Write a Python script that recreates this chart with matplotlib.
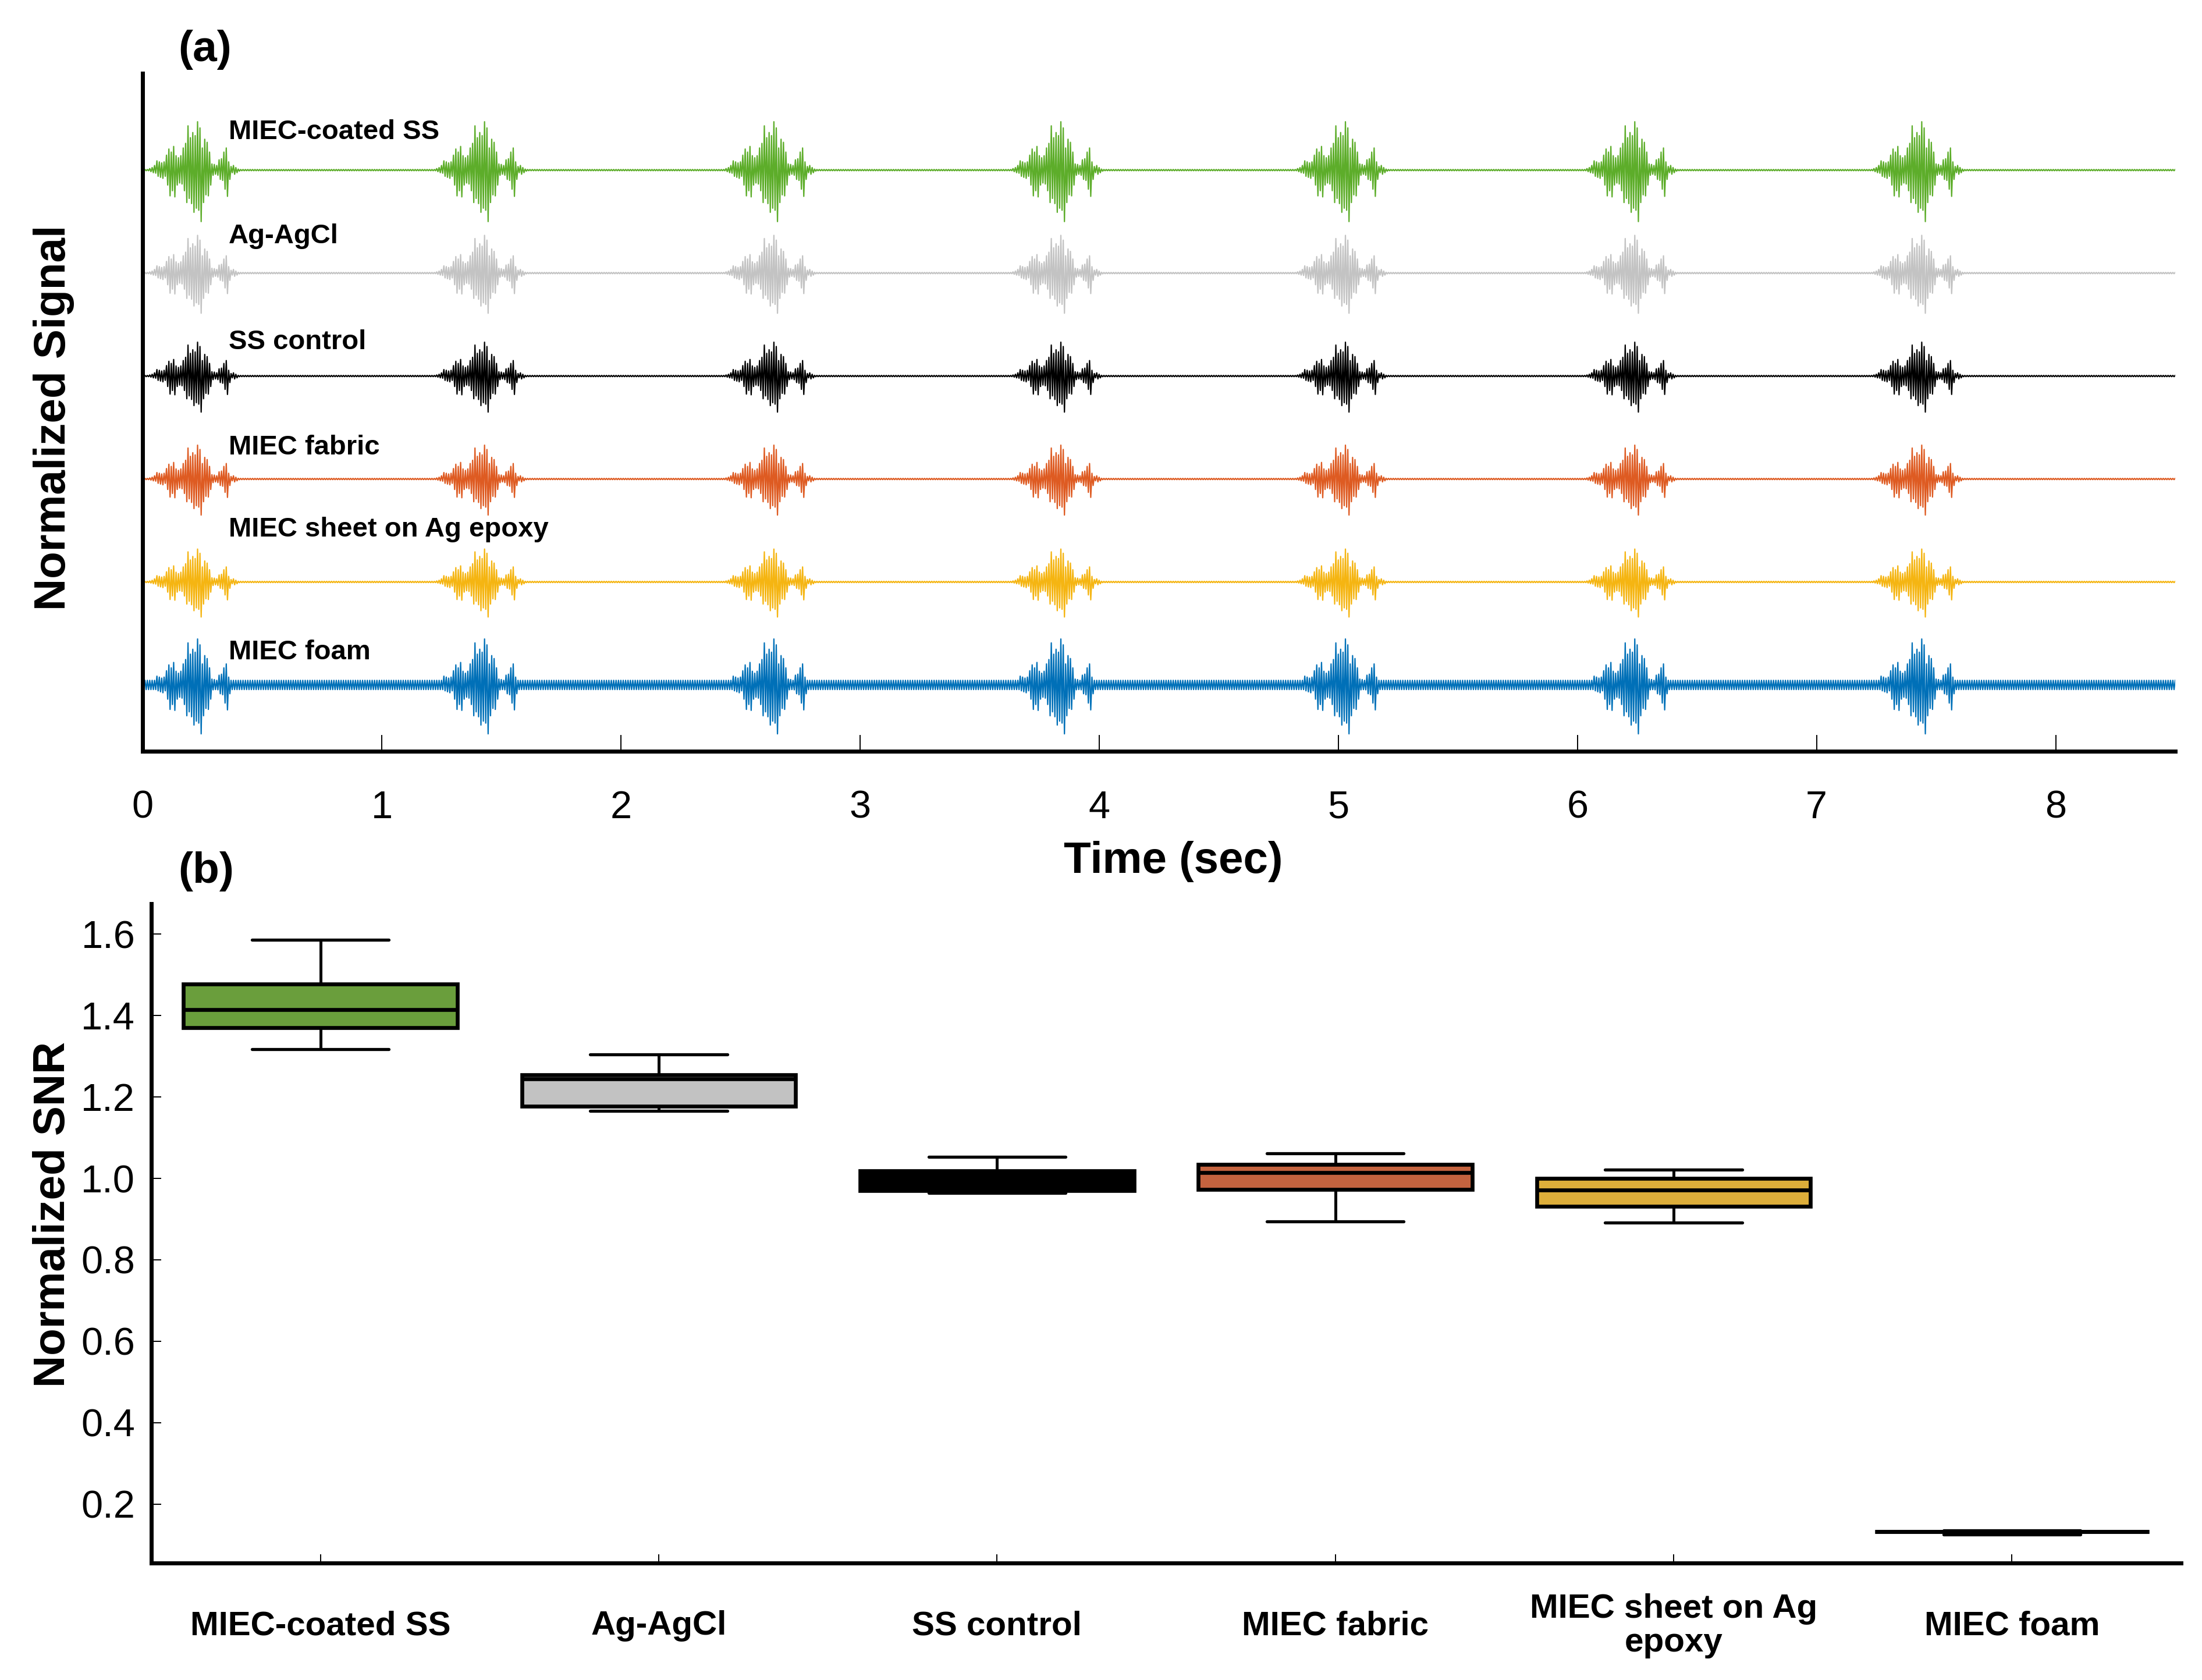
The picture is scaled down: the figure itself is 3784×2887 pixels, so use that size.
import matplotlib
matplotlib.use("Agg")
import matplotlib.pyplot as plt
import numpy as np

plt.rcParams['font.family'] = ['Liberation Sans', 'DejaVu Sans']

W, H = 3784, 2887
DPI = 200

# ---- (a) raw signal traces ----
trace_names = ['MIEC-coated SS', 'Ag-AgCl', 'SS control', 'MIEC fabric',
               'MIEC sheet on Ag epoxy', 'MIEC foam']
trace_colors = ['#5DAD2A', '#C3C3C3', '#000000', '#DE5B22', '#F5B512', '#0070B8']
trace_gain = [1.0, 0.78, 0.70, 0.70, 0.68, 0.95]      # burst size vs top trace
trace_floor = [0.006, 0.006, 0.006, 0.006, 0.006, 0.045]  # baseline noise band
label_lift = [0.30, 0.29, 0.26, 0.24, 0.44, 0.25]     # label baseline above trace
burst_peaks = [0.236, 1.431, 2.64, 3.84, 5.03, 6.24, 7.44]  # sec

# burst envelope read every 10 ms around the main peak (index 20 = peak),
# fraction of the largest excursion
burst_up = [0.03, 0.05, 0.09, 0.18, 0.16, 0.14, 0.16, 0.29, 0.41, 0.35,
            0.46, 0.28, 0.24, 0.28, 0.43, 0.52, 0.86, 0.63, 0.73, 0.67,
            0.94, 0.82, 0.43, 0.60, 0.54, 0.35, 0.12, 0.11, 0.09, 0.20,
            0.22, 0.35, 0.43, 0.16, 0.07, 0.09, 0.05, 0.02, 0.01]
burst_down = [0.03, 0.05, 0.06, 0.12, 0.14, 0.16, 0.12, 0.29, 0.50, 0.40,
              0.52, 0.29, 0.25, 0.27, 0.40, 0.63, 0.55, 0.65, 0.82, 0.74,
              0.78, 1.00, 0.63, 0.48, 0.50, 0.29, 0.10, 0.08, 0.10, 0.18,
              0.20, 0.37, 0.51, 0.18, 0.05, 0.08, 0.05, 0.02, 0.01]
burst_step = 0.01
t_end = 8.5

# ---- (b) SNR box plot ----
snr_labels = ['MIEC-coated SS', 'Ag-AgCl', 'SS control', 'MIEC fabric',
              'MIEC sheet on Ag\nepoxy', 'MIEC foam']
snr_whislo = [1.318, 1.166, 0.965, 0.894, 0.891, 0.125]
snr_q1 = [1.370, 1.178, 0.970, 0.973, 0.932, 0.1315]
snr_med = [1.415, 1.245, 0.990, 1.015, 0.971, 0.132]
snr_q3 = [1.477, 1.254, 1.018, 1.034, 1.000, 0.1325]
snr_whishi = [1.587, 1.305, 1.053, 1.062, 1.022, 0.135]
box_colors = ['#6A9E3C', '#C2C2C2', '#000000', '#C4633F', '#DDAE3A', '#000000']


def build_trace(gain, floor):
    dt = burst_step / 2
    n = int(round(t_end / dt)) + 1
    x = np.arange(n) * dt
    up = np.full(n, floor)
    dn = np.full(n, floor)
    for p in burst_peaks:
        for i in range(len(burst_up)):
            k = int(round((p + (i - 20) * burst_step) / dt))
            k -= k % 2
            if k < 0 or k + 1 >= n:
                continue
            up[k:k + 2] = max(floor, 0.5 * gain * burst_up[i])
            dn[k:k + 2] = max(floor, 0.5 * gain * burst_down[i])
    y = np.where(np.arange(n) % 2 == 0, up, -dn)
    return x, y


fig = plt.figure(figsize=(W / DPI, H / DPI), dpi=DPI)

# top panel
ax1 = fig.add_axes([245 / W, 1 - 1291 / H, (3738 - 245) / W, (1291 - 126) / H])
n_tr = len(trace_names)
for j in range(n_tr):
    off = n_tr - 1 - j
    x, y = build_trace(trace_gain[j], trace_floor[j])
    ax1.plot(x, y + off, color=trace_colors[j], lw=0.8)
    ax1.text(0.36, off + label_lift[j], trace_names[j], fontsize=17,
             fontweight='bold', ha='left', va='baseline')
ax1.set_xlim(0, t_end)
ax1.set_ylim(-0.644, 5.94)
ax1.set_yticks([])
ax1.set_xticks(range(9))
for s in ['top', 'right']:
    ax1.spines[s].set_visible(False)
for s in ['left', 'bottom']:
    ax1.spines[s].set_linewidth(2.5)
ax1.tick_params(axis='x', direction='in', length=10, width=0.7,
                labelsize=24, pad=24)

# bottom panel
ax2 = fig.add_axes([260 / W, 1 - 2686 / H, (3748 - 260) / W, (2686 - 1553) / H])
stats = []
for i in range(len(snr_labels)):
    stats.append({'med': snr_med[i], 'q1': snr_q1[i], 'q3': snr_q3[i],
                  'whislo': snr_whislo[i], 'whishi': snr_whishi[i],
                  'fliers': [], 'label': snr_labels[i]})
bp = ax2.bxp(stats, positions=range(1, 7), widths=0.81, capwidths=0.405,
             patch_artist=True, showfliers=False,
             boxprops=dict(linewidth=2.4, edgecolor='black'),
             medianprops=dict(color='black', linewidth=2.4),
             whiskerprops=dict(color='black', linewidth=1.8),
             capprops=dict(color='black', linewidth=1.9, solid_capstyle='round'))
for patch, c in zip(bp['boxes'], box_colors):
    patch.set_facecolor(c)
ax2.set_xlim(0.5, 6.5)
ax2.set_ylim(0.055, 1.675)
ax2.set_yticks([0.2, 0.4, 0.6, 0.8, 1.0, 1.2, 1.4, 1.6])
ax2.set_yticklabels(['%.1f' % v for v in ax2.get_yticks()])
for s in ['top', 'right']:
    ax2.spines[s].set_visible(False)
for s in ['left', 'bottom']:
    ax2.spines[s].set_linewidth(2.5)
ax2.tick_params(axis='y', direction='in', length=6, width=0.7,
                labelsize=24, pad=10)
ax2.tick_params(axis='x', direction='in', length=5.5, width=0.7, pad=39)
for lab in ax2.get_xticklabels():
    lab.set_fontsize(21)
    lab.set_fontweight('bold')
    lab.set_va('center')
    lab.set_linespacing(1.1)

# labels
fig.text(2016 / W, 1 - 1480 / H, 'Time (sec)', fontsize=27.5,
         fontweight='bold', ha='center', va='center')
fig.text(92 / W, 1 - 718 / H, 'Normalized Signal', fontsize=27.5,
         fontweight='bold', ha='center', va='center', rotation=90)
fig.text(92 / W, 1 - 2087 / H, 'Normalized SNR', fontsize=27.5,
         fontweight='bold', ha='center', va='center', rotation=90)
fig.text(306 / W, 1 - 85 / H, '(a)', fontsize=27, fontweight='bold',
         ha='left', va='center')
fig.text(306 / W, 1 - 1497 / H, '(b)', fontsize=27, fontweight='bold',
         ha='left', va='center')

fig.savefig('out.png', dpi=DPI)
